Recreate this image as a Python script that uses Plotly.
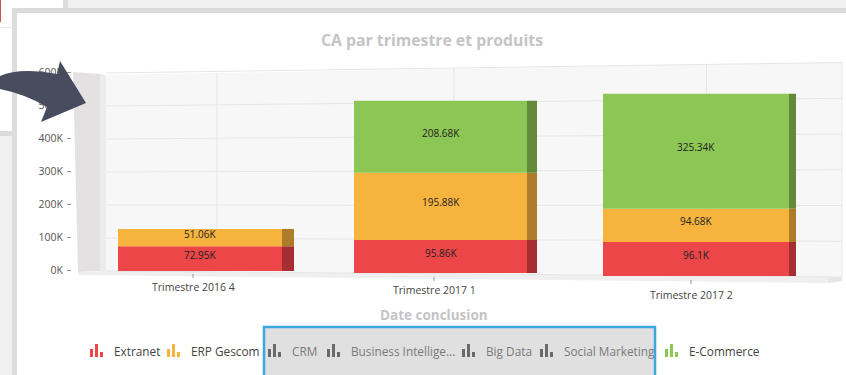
import plotly.graph_objects as go

W, H = 846, 375

# ---------- data ----------
categories = ["Trimestre 2016 4", "Trimestre 2017 1", "Trimestre 2017 2"]
extranet = [72.95, 95.86, 96.1]
erp_gescom = [51.06, 195.88, 94.68]
e_commerce = [0, 208.68, 325.34]
y_ticks = [0, 100, 200, 300, 400, 500, 600]
legend_names = ["Extranet", "ERP Gescom", "CRM", "Business Intellige...", "Big Data", "Social Marketing", "E-Commerce"]

# ---------- style / layout ----------
RED, ORANGE, GREEN = "#ec4649", "#f6b33e", "#8cc654"
SIDE = {RED: "#a62e33", ORANGE: "#ae7d2a", GREEN: "#628a38"}
GREY_ICON = "#6a6a6a"
FONT = "Open Sans"
legend_colors = [RED, ORANGE, GREY_ICON, GREY_ICON, GREY_ICON, GREY_ICON, GREEN]
legend_text_colors = ["#444", "#444", "#7a7a7a", "#7a7a7a", "#7a7a7a", "#7a7a7a", "#444"]
legend_icon_x = [90, 167, 268, 327, 462, 540, 665]

def px(x): return x / W
def py(y): return 1 - y / H

# x axis: one unit = distance between first two bars
X0, UNIT = 200, 240.5
def ux(x): return (x - X0) / UNIT
slot_pos = [ux(200), ux(440.5), ux(696)]
slot_w = [164 / UNIT, 173 / UNIT, 186 / UNIT]
side_w = [12 / UNIT, 10 / UNIT, 7 / UNIT]
label_x = [ux(193), ux(434), ux(691)]
label_y = [286.5, 290, 295]
tick_top = [274, 277, 280]
# each bar is drawn in perspective: zero baseline px, and px per 1K
base_px = [271, 273, 276]
px_per_k = [0.339, 0.344, 0.353]

fig = go.Figure()
annotations = []
shapes = []

def poly(points, fill):
    d = "M" + "L".join(f"{px(a):.5f},{py(b):.5f}" for a, b in points) + "Z"
    shapes.append(dict(type="path", path=d, xref="paper", yref="paper", fillcolor=fill, line=dict(width=0), layer="below"))

def line(x0, y0, x1, y1, color, width=1, layer="below"):
    shapes.append(dict(type="line", xref="paper", yref="paper", x0=px(x0), y0=py(y0), x1=px(x1), y1=py(y1),
                       line=dict(color=color, width=width), layer=layer))

def rect(x0, y0, x1, y1, fill, border=None, bw=0, layer="below"):
    shapes.append(dict(type="rect", xref="paper", yref="paper", x0=px(x0), y0=py(y0), x1=px(x1), y1=py(y1),
                       fillcolor=fill, line=dict(color=border or fill, width=bw), layer=layer))

# screenshot surroundings
rect(68, 0, W, 8, "#f0f0f0")
rect(63, 0, 68, 8, "#dcdcdc")
rect(0, 0, 1, 22, "#c9574f")
line(0, 27.5, 12, 27.5, "#e6e6e6", 1)
rect(0, 136, 12, H, "#f0f0f0")
rect(0, 131, 12, 136, "#dcdcdc")
rect(12, 8, 17, H, "#dcdcdc")
rect(12, 8, W, 13, "#dcdcdc")

# 3D walls and floor
poly([(106, 75), (842, 62), (842, 277), (106, 271)], "#f7f7f7")
poly([(73, 72), (100, 74), (100, 271), (78, 272)], "#e3e1e2")
poly([(100, 74), (106, 75), (106, 271), (100, 271)], "#ececec")
poly([(78, 272), (106, 271), (842, 277), (842, 281), (828, 283), (78, 275)], "#efefef")
poly([(828, 278), (842, 277), (842, 281), (828, 283)], "#e6e6e6")
line(842, 62, 842, 277, "#e8e8e8")
for t in y_ticks:
    line(106, 271 - 0.33 * t, 842, 277 - 0.3575 * t, "#e6e6e6")
for a, b, c in [(217, 73, 272), (454, 69, 274), (706.5, 64, 276)]:
    line(a, b, a, c, "#e6e6e6")

# y axis carrying the tick labels
layout_axes = dict(
    yaxis=dict(domain=[py(270), py(72)], range=[0, 600], tickvals=y_ticks, automargin=False,
               ticktext=[f"{t}K" for t in y_ticks], anchor="x", side="left",
               showgrid=False, zeroline=False, showline=False, ticks="outside", ticklen=4, ticklabelstandoff=2,
               tickcolor="#999", tickfont=dict(family=FONT, size=10.5, color="#555")),
)
# an unseen trace so that the visible value axis is drawn
fig.add_trace(go.Scatter(x=slot_pos, y=extranet, mode="markers", marker=dict(opacity=0), hoverinfo="skip", showlegend=False))

# one hidden scale per bar, for its perspective
for i in range(3):
    top_px = base_px[i] - 600 * px_per_k[i]
    layout_axes[f"yaxis{i + 2}"] = dict(domain=[py(base_px[i]), py(top_px)], range=[0, 600], visible=False, anchor="x",
                                        automargin=False)

series = [("Extranet", extranet, RED), ("ERP Gescom", erp_gescom, ORANGE), ("E-Commerce", e_commerce, GREEN)]
for i, cat in enumerate(categories):
    cum = 0
    yref = f"y{i + 2}"
    for name, vals, col in series:
        v = vals[i]
        if v == 0:
            continue
        fig.add_trace(go.Bar(x=[slot_pos[i]], y=[v], base=[cum], width=[slot_w[i]], name=name, yaxis=yref,
                             marker=dict(color=col, line=dict(width=0)), showlegend=False))
        fig.add_trace(go.Bar(x=[slot_pos[i] + slot_w[i] / 2 + side_w[i] / 2], y=[v], base=[cum], width=[side_w[i]],
                             name=name, yaxis=yref, marker=dict(color=SIDE[col], line=dict(width=0)),
                             showlegend=False, hoverinfo="skip"))
        annotations.append(dict(x=slot_pos[i], y=cum + v / 2, xref="x", yref=yref, text=f"{v:g}K", showarrow=False,
                                yshift=4, font=dict(family=FONT, size=10, color="#222")))
        cum += v
    annotations.append(dict(x=label_x[i], y=py(label_y[i]), xref="x", yref="paper", text=cat, showarrow=False,
                            xanchor="center", yanchor="middle", font=dict(family=FONT, size=10.5, color="#444")))
    tx = X0 + label_x[i] * UNIT
    line(tx, tick_top[i], tx, tick_top[i] + 4, "#999", 1, "above")

# axis title
annotations.append(dict(x=px(434), y=py(315), xref="paper", yref="paper", text="<b>Date conclusion</b>", showarrow=False,
                        xanchor="center", yanchor="middle", font=dict(family=FONT, size=13.5, color="#c4c4c4")))

# legend box and entries
rect(264, 327, 655, H + 5, "#e0e0e0", "#3aa7e0", 2.5, "above")
for name, col, tcol, ix in zip(legend_names, legend_colors, legend_text_colors, legend_icon_x):
    for dx, h in zip([0, 5, 10], [8, 13, 5]):
        rect(ix + dx, 357 - h, ix + dx + 3, 357, col, layer="above")
    annotations.append(dict(x=px(ix + 21.5), y=py(351), xref="paper", yref="paper", text=name, showarrow=False,
                            xanchor="left", yanchor="middle", font=dict(family=FONT, size=11.8, color=tcol)))

# arrow overlay
arrow = "M0,76 Q20,67 57,74 L60,61 L86,103 L41,122 L47,107 Q25,94 0,89 Z"
def conv(path):
    out = []
    for tok in path.replace("M", "M ").replace("Q", "Q ").replace("L", "L ").replace("Z", "Z").split():
        if "," in tok:
            a, b = tok.split(",")
            out.append(f"{px(float(a)):.5f},{py(float(b)):.5f}")
        else:
            out.append(tok)
    return " ".join(out)
shapes.append(dict(type="path", path=conv(arrow), xref="paper", yref="paper", fillcolor="#474c5f",
                   line=dict(width=0), layer="above"))

x_left = 72
fig.update_layout(
    width=W, height=H, margin=dict(l=0, r=0, t=0, b=0, autoexpand=False),
    paper_bgcolor="white", plot_bgcolor="rgba(0,0,0,0)", barmode="overlay", showlegend=False,
    font=dict(family=FONT),
    title=dict(text="<b>CA par trimestre et produits</b>", x=432 / W, xanchor="center", y=py(40), yanchor="middle",
               font=dict(family=FONT, size=15.8, color="#c4c4c4")),
    xaxis=dict(domain=[px(x_left), 1], range=[ux(x_left), ux(W)], anchor="y", showgrid=False, zeroline=False,
               automargin=False, showline=False, showticklabels=False, ticks=""),
    shapes=shapes, annotations=annotations, **layout_axes,
)
fig.write_html("out.html", config=dict(displayModeBar=False),
               post_script="document.body.style.margin='0';document.body.style.overflow='hidden';")
